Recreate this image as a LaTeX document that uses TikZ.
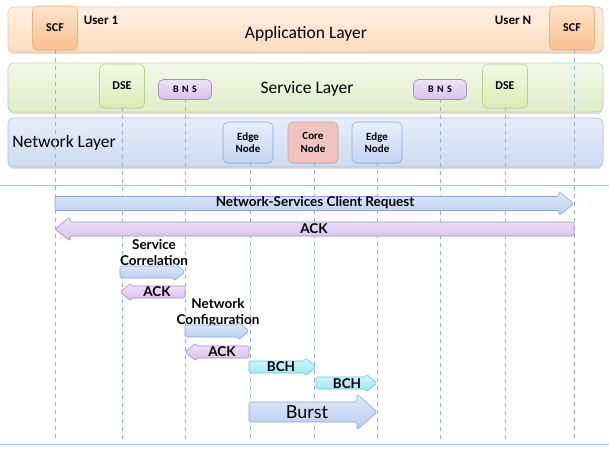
\documentclass[tikz,border=0pt]{standalone}
\usepackage{fontspec}
\setmainfont{Carlito}
\newfontfamily\arrowfont{Lato}
\usetikzlibrary{shadows}
\definecolor{apptop}{HTML}{FEF0E2}
\definecolor{appbot}{HTML}{FBDDBE}
\definecolor{appline}{HTML}{E8C9A8}
\definecolor{srvtop}{HTML}{F3F8E9}
\definecolor{srvbot}{HTML}{E0ECC8}
\definecolor{srvline}{HTML}{C2D4A2}
\definecolor{nettop}{HTML}{E6EEF8}
\definecolor{netbot}{HTML}{CCDCF0}
\definecolor{netline}{HTML}{A9BFDF}
\definecolor{lifeline}{HTML}{8EB4DC}
\definecolor{rule}{HTML}{9DC3E6}
\definecolor{bluetop}{HTML}{E2EBF9}
\definecolor{bluebot}{HTML}{B5CBEE}
\definecolor{blueline}{HTML}{8DA8D8}
\definecolor{purptop}{HTML}{F1E4F9}
\definecolor{purpbot}{HTML}{D8BCEC}
\definecolor{purpline}{HTML}{A98DC9}
\definecolor{cyantop}{HTML}{D4F8FB}
\definecolor{cyanbot}{HTML}{9BE6EF}
\definecolor{cyanline}{HTML}{6CC6D3}
\definecolor{scftop}{HTML}{FDE3CB}
\definecolor{scfbot}{HTML}{F9C08E}
\definecolor{scfline}{HTML}{EDB27E}
\definecolor{dsetop}{HTML}{F2F9E4}
\definecolor{dsebot}{HTML}{D9EDB4}
\definecolor{dseline}{HTML}{B5D28C}
\definecolor{bnstop}{HTML}{EEE3F8}
\definecolor{bnsbot}{HTML}{D5C1EC}
\definecolor{bnsline}{HTML}{A48CC8}
\definecolor{edgetop}{HTML}{E6EEFB}
\definecolor{edgebot}{HTML}{C3D5F3}
\definecolor{edgeline}{HTML}{8EA9DA}
\definecolor{corefill}{HTML}{EFC4C0}
\definecolor{coreline}{HTML}{D49E98}
\tikzset{
  layer/.style={draw=#1, line width=0.6pt, rounded corners=6pt,
    drop shadow={shadow xshift=0pt, shadow yshift=-2pt, opacity=0.25}},
  box/.style={rounded corners=5pt, line width=0.6pt, align=center,
    font=\fontsize{12}{13}\selectfont\bfseries, inner sep=0pt,
    drop shadow={shadow xshift=0pt, shadow yshift=-1pt, opacity=0.15}},
  scfbox/.style={box, draw=scfline, top color=scftop, bottom color=scfbot,
    minimum width=45pt, minimum height=44pt},
  dsebox/.style={box, draw=dseline, top color=dsetop, bottom color=dsebot,
    minimum width=45pt, minimum height=44pt},
  bnsbox/.style={box, draw=bnsline, top color=bnstop, bottom color=bnsbot,
    minimum width=53pt, minimum height=20pt, font=\fontsize{10}{11}\selectfont\bfseries},
  edgebox/.style={box, draw=edgeline, top color=edgetop, bottom color=edgebot,
    minimum width=50pt, minimum height=41pt, font=\fontsize{11}{12.5}\selectfont\bfseries},
  corebox/.style={box, draw=coreline, fill=corefill,
    minimum width=50pt, minimum height=41pt, font=\fontsize{11}{12.5}\selectfont\bfseries},
  life/.style={draw=lifeline, dash pattern=on 4pt off 4pt, line width=0.6pt},
  hrule/.style={draw=rule, line width=1pt},
  blk/.style={rounded corners=1.5pt, line width=0.6pt},
  bluearr/.style={blk, draw=blueline, top color=bluetop, bottom color=bluebot},
  purparr/.style={blk, draw=purpline, top color=purptop, bottom color=purpbot},
  cyanarr/.style={blk, draw=cyanline, top color=cyantop, bottom color=cyanbot},
  atext/.style={font=\arrowfont\fontsize{13.5}{15}\selectfont\bfseries, inner sep=0pt},
  ltext/.style={font=\fontsize{17.5}{19}\selectfont},
  utext/.style={font=\fontsize{13}{14}\selectfont\bfseries},
}
% right-pointing block arrow: tail x, tip x, centre y, body half, head half, head length
\newcommand\rblk[7]{\path[#7] (#1,#3-#4) -- (#2-#6,#3-#4) -- (#2-#6,#3-#5) -- (#2,#3)
  -- (#2-#6,#3+#5) -- (#2-#6,#3+#4) -- (#1,#3+#4) -- cycle;}
% left-pointing block arrow: tail x, tip x, centre y, body half, head half, head length
\newcommand\lblk[7]{\path[#7] (#1,#3-#4) -- (#2+#6,#3-#4) -- (#2+#6,#3-#5) -- (#2,#3)
  -- (#2+#6,#3+#5) -- (#2+#6,#3+#4) -- (#1,#3+#4) -- cycle;}
\begin{document}
\begin{tikzpicture}[x=1pt,y=-1pt]
\useasboundingbox[fill=white] (0,0) rectangle (609,449);

% layer bands
\path[layer=appline, top color=apptop, bottom color=appbot] (8,7) rectangle (603,52);
\path[layer=srvline, top color=srvtop, bottom color=srvbot] (8,63) rectangle (603,112);
\path[layer=netline, top color=nettop, bottom color=netbot] (8,118) rectangle (603,167);

\node[ltext] (applbl) at (306,34) {Application Layer};
\node[ltext] (srvlbl) at (307,89) {Service Layer};
\node[ltext] (netlbl) at (64,143) {Network Layer};
\node[utext] (u1) at (101,20) {User 1};
\node[utext] (un) at (513,20) {User N};

% horizontal rules
\draw[hrule] (0,185) -- (609,185);
\draw[hrule] (0,444) -- (609,444);

% lifelines, drawn before the boxes that own them
\coordinate (b1) at (55,440);  \coordinate (b2) at (122,440);
\coordinate (b3) at (185,440); \coordinate (b4) at (250,440);
\coordinate (b5) at (314,440); \coordinate (b6) at (377,440);
\coordinate (b7) at (440,440); \coordinate (b8) at (505,440);
\coordinate (b9) at (574,440);
\draw[life] (55,50) -- (b1);
\draw[life] (122,107) -- (b2);
\draw[life] (185,99) -- (b3);
\draw[life] (250,162) -- (b4);
\draw[life] (314,162) -- (b5);
\draw[life] (377,162) -- (b6);
\draw[life] (440,99) -- (b7);
\draw[life] (505,107) -- (b8);
\draw[life] (574,50) -- (b9);

% entities
\node[scfbox] (scf1) at (55,28) {SCF};
\node[scfbox] (scfn) at (572,28) {SCF};
\node[dsebox] (dse1) at (122,86) {DSE};
\node[dsebox] (dsen) at (505,86) {DSE};
\node[bnsbox] (bns1) at (185,89.5) {B\,\,N\,\,S};
\node[bnsbox] (bnsn) at (440,89.5) {B\,\,N\,\,S};
\node[edgebox] (edge1) at (248,142.5) {Edge\\Node};
\node[corebox] (core) at (313,142.5) {Core\\Node};
\node[edgebox] (edge2) at (377,142.5) {Edge\\Node};

% message arrows
\rblk{55}{574}{203.5}{7}{12}{15}{bluearr}
\node[atext] (req) at (315,203) {Network-Services Client Request};
\lblk{574}{55}{229}{7}{12}{15}{purparr}
\node[atext] (ack1) at (314,229) {ACK};

\node[atext, align=center] (sc) at (154,253) {Service\\[1pt]Correlation};
\rblk{120}{185}{272}{6}{9}{11}{bluearr}
\lblk{185}{120}{292}{6}{9}{11}{purparr}
\node[atext] (ack2) at (157,292) {ACK};

\node[atext, align=center] (nc) at (218,313) {Network\\[1pt]Configuration};
\rblk{185}{249}{331}{6}{9}{11}{bluearr}
\lblk{249}{185}{352}{6}{9}{11}{purparr}
\node[atext] (ack3) at (222,352) {ACK};

\rblk{249}{316}{367}{6}{9}{11}{cyanarr}
\node[atext] (bch1) at (281,367) {BCH};
\rblk{316}{377}{383}{6}{9}{11}{cyanarr}
\node[atext] (bch2) at (347,384) {BCH};

\rblk{249}{377}{412}{10}{18}{20}{bluearr}
\node[font=\arrowfont\fontsize{18}{20}\selectfont, inner sep=0pt] (burst) at (307,412) {Burst};
\end{tikzpicture}
\end{document}
